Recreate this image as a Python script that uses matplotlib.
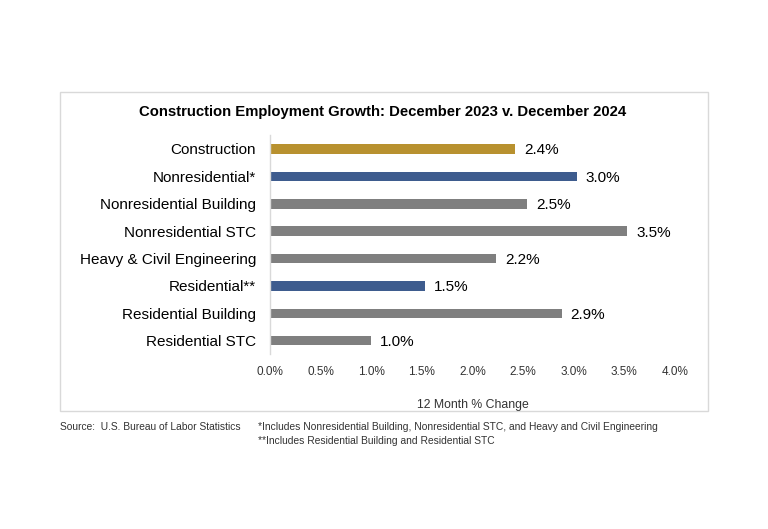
import matplotlib
matplotlib.use("Agg")
import matplotlib.pyplot as plt
from matplotlib.patches import Rectangle

plt.rcParams['font.family'] = ['Liberation Sans', 'DejaVu Sans']

categories = ["Construction", "Nonresidential*", "Nonresidential Building",
              "Nonresidential STC", "Heavy & Civil Engineering", "Residential**",
              "Residential Building", "Residential STC"]
values = [2.42, 3.03, 2.54, 3.53, 2.23, 1.53, 2.88, 1.00]
labels = ["2.4%", "3.0%", "2.5%", "3.5%", "2.2%", "1.5%", "2.9%", "1.0%"]
colors = ["#B8912F", "#3E5C8E", "#7F7F7F", "#7F7F7F", "#7F7F7F", "#3E5C8E",
          "#7F7F7F", "#7F7F7F"]
xticks = [0.0, 0.5, 1.0, 1.5, 2.0, 2.5, 3.0, 3.5, 4.0]
title = "Construction Employment Growth: December 2023 v. December 2024"
xlabel = "12 Month % Change"
source = "Source:  U.S. Bureau of Labor Statistics"
note1 = "*Includes Nonresidential Building, Nonresidential STC, and Heavy and Civil Engineering"
note2 = "**Includes Residential Building and Residential STC"

W, H = 768, 529
fig = plt.figure(figsize=(W/100, H/100), dpi=100)

# outer box
fig.patches.append(Rectangle((60/W, 1-411/H), (708-60)/W, (411-92)/H,
                             transform=fig.transFigure, fill=False,
                             edgecolor="#D9D9D9", linewidth=1.0))

ax = fig.add_axes([270/W, 1-354.4/H, 405/W, (354.4-135.3)/H])
ypos = list(range(len(categories)))
ax.barh(ypos, values, height=0.35, color=colors, zorder=2)
ax.set_ylim(len(categories)-0.5, -0.5)
ax.set_xlim(0, 4.0)
ax.set_yticks(ypos)
ax.set_yticklabels(categories, fontsize=11, color="#000000")
ax.set_xticks(xticks)
ax.set_xticklabels([f"{t:.1f}%" for t in xticks], fontsize=8.5, color="#333333")
ax.tick_params(axis='y', length=0, pad=10)
ax.tick_params(axis='x', length=0, pad=8)
for s in ["top", "right", "bottom"]:
    ax.spines[s].set_visible(False)
ax.spines["left"].set_color("#D9D9D9")
ax.spines["left"].set_linewidth(1.0)

for y, v, lab in zip(ypos, values, labels):
    ax.annotate(lab, (v, y), xytext=(6.5, -1), textcoords="offset points",
                ha="left", va="center", fontsize=11, color="#000000")

fig.text(383/W, 1-112/H, title, ha="center", va="center", fontsize=10.7,
         fontweight="bold")
fig.text(472.5/W, 1-405/H, xlabel, ha="center", va="center", fontsize=8.8,
         color="#333333")
fig.text(60/W, 1-427/H, source, ha="left", va="center", fontsize=7.4, color="#333333")
fig.text(258/W, 1-427/H, note1, ha="left", va="center", fontsize=7.4, color="#333333")
fig.text(258/W, 1-441/H, note2, ha="left", va="center", fontsize=7.4, color="#333333")

fig.savefig("out.png", dpi=100, facecolor="white")
